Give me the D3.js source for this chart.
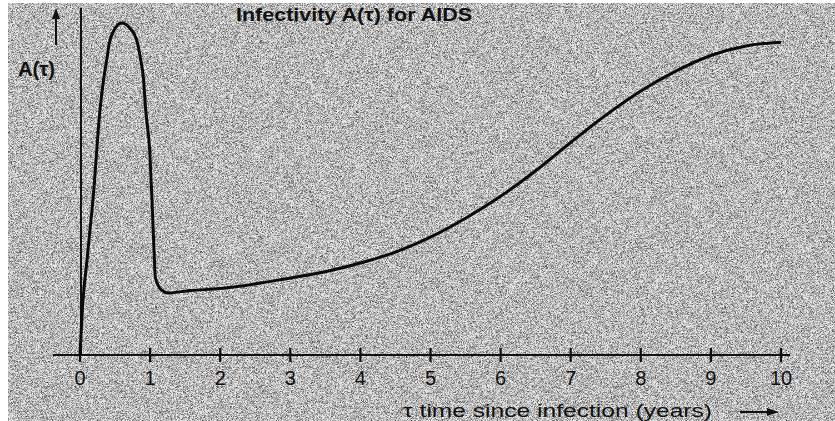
<!DOCTYPE html>
<html>
<head>
<meta charset="utf-8">
<script src="https://cdn.jsdelivr.net/npm/d3@7"></script>
<style>
body{margin:0;background:#fff;}
svg{display:block;}
</style>
</head>
<body>
<div id="chart"></div>
<script>
// values (A in arbitrary units, peak = 1)
let tau = [0, 0.043, 0.09, 0.138, 0.185, 0.285, 0.342, 0.381, 0.418, 0.475, 0.595, 0.713, 0.809, 0.866, 0.903, 0.937, 0.994, 1.027, 1.056, 1.074, 1.16, 1.255, 1.57, 2, 3, 3.5, 4, 4.5, 5, 5.5, 6, 6.5, 7, 7.5, 8, 8.5, 9, 9.5, 10];
let infectivity = [0, 0.166, 0.265, 0.367, 0.467, 0.738, 0.838, 0.889, 0.939, 0.974, 1.0, 0.984, 0.949, 0.889, 0.838, 0.738, 0.617, 0.467, 0.316, 0.235, 0.196, 0.187, 0.194, 0.2, 0.232, 0.251, 0.277, 0.31, 0.355, 0.412, 0.478, 0.555, 0.64, 0.722, 0.795, 0.855, 0.902, 0.931, 0.942];
let xTicks = [0, 1, 2, 3, 4, 5, 6, 7, 8, 9, 10];
let title = "Infectivity A(\u03c4) for AIDS";
let yLabel = "A(\u03c4)";
let xLabel = "\u03c4 time since infection (years)";

let width = 835, height = 421;
let svg = d3.select("#chart").append("svg").attr("width", width).attr("height", height);

// grainy printed background
let defs = svg.append("defs");
let grain = defs.append("filter").attr("id", "grain").attr("x", 0).attr("y", 0).attr("width", 1).attr("height", 1);
grain.append("feTurbulence").attr("type", "fractalNoise").attr("baseFrequency", 1.8).attr("numOctaves", 1).attr("seed", 7).attr("result", "n");
grain.append("feColorMatrix").attr("in", "n").attr("type", "matrix")
.attr("values", "0 0 0 0 0  0 0 0 0 0  0 0 0 0 0  1.8 0 0 0 -0.7");
svg.append("rect").attr("x", 8).attr("y", 3).attr("width", width - 8).attr("height", height - 3).attr("fill", "#e8e8e8");
svg.append("rect").attr("x", 8).attr("y", 3).attr("width", width - 8).attr("height", height - 3).attr("filter", "url(#grain)");

// scales
let x = d3.scaleLinear().domain([0, 10]).range([80, 781]);
let y = d3.scaleLinear().domain([0, 1]).range([355, 23]);

let font = "'Liberation Sans', Arial, sans-serif";

// x axis
let xAxis = svg.append("g").attr("transform", "translate(0," + y(0) + ")");
xAxis.append("line").attr("x1", 53).attr("x2", 790).attr("stroke", "#111").attr("stroke-width", 2.2);
xAxis.selectAll(".tick").data(xTicks).enter().append("line")
.attr("x1", d => x(d)).attr("x2", d => x(d)).attr("y1", -7).attr("y2", 7)
.attr("stroke", "#111").attr("stroke-width", 2.2);
xAxis.selectAll(".lbl").data(xTicks).enter().append("text")
.attr("x", d => x(d)).attr("y", 30).attr("text-anchor", "middle")
.attr("font-family", font).attr("font-size", 20).attr("fill", "#111")
.text(d => d);

// y axis
svg.append("line").attr("x1", x(0) + 1).attr("x2", x(0) + 1).attr("y1", 8).attr("y2", y(0))
.attr("stroke", "#111").attr("stroke-width", 2);

// curve
let line = d3.line().x((d, i) => x(tau[i])).y(d => y(d)).curve(d3.curveMonotoneX);
svg.append("path").datum(infectivity).attr("d", line)
.attr("fill", "none").attr("stroke", "#0a0a0a").attr("stroke-width", 3).attr("stroke-linejoin", "round");

// labels
svg.append("text").attr("x", 236).attr("y", 21).attr("font-family", font).attr("font-weight", "bold")
.attr("font-size", 19).attr("textLength", 236).attr("lengthAdjust", "spacingAndGlyphs").attr("fill", "#111").text(title);
svg.append("text").attr("x", 18).attr("y", 76).attr("font-family", font).attr("font-weight", "bold")
.attr("font-size", 20).attr("textLength", 37).attr("lengthAdjust", "spacingAndGlyphs").attr("fill", "#111").text(yLabel);
svg.append("text").attr("x", 403).attr("y", 417).attr("font-family", font)
.attr("font-size", 19).attr("textLength", 309).attr("lengthAdjust", "spacingAndGlyphs").attr("fill", "#111").text(xLabel);

// arrows
svg.append("line").attr("x1", 56).attr("x2", 56).attr("y1", 45).attr("y2", 16).attr("stroke", "#111").attr("stroke-width", 2);
svg.append("path").attr("d", "M56,8 L52,19 L60,19 Z").attr("fill", "#111");
svg.append("line").attr("x1", 740).attr("x2", 770).attr("y1", 412).attr("y2", 412).attr("stroke", "#111").attr("stroke-width", 2);
svg.append("path").attr("d", "M779,412 L767,408 L767,416 Z").attr("fill", "#111");
</script>
</body>
</html>
